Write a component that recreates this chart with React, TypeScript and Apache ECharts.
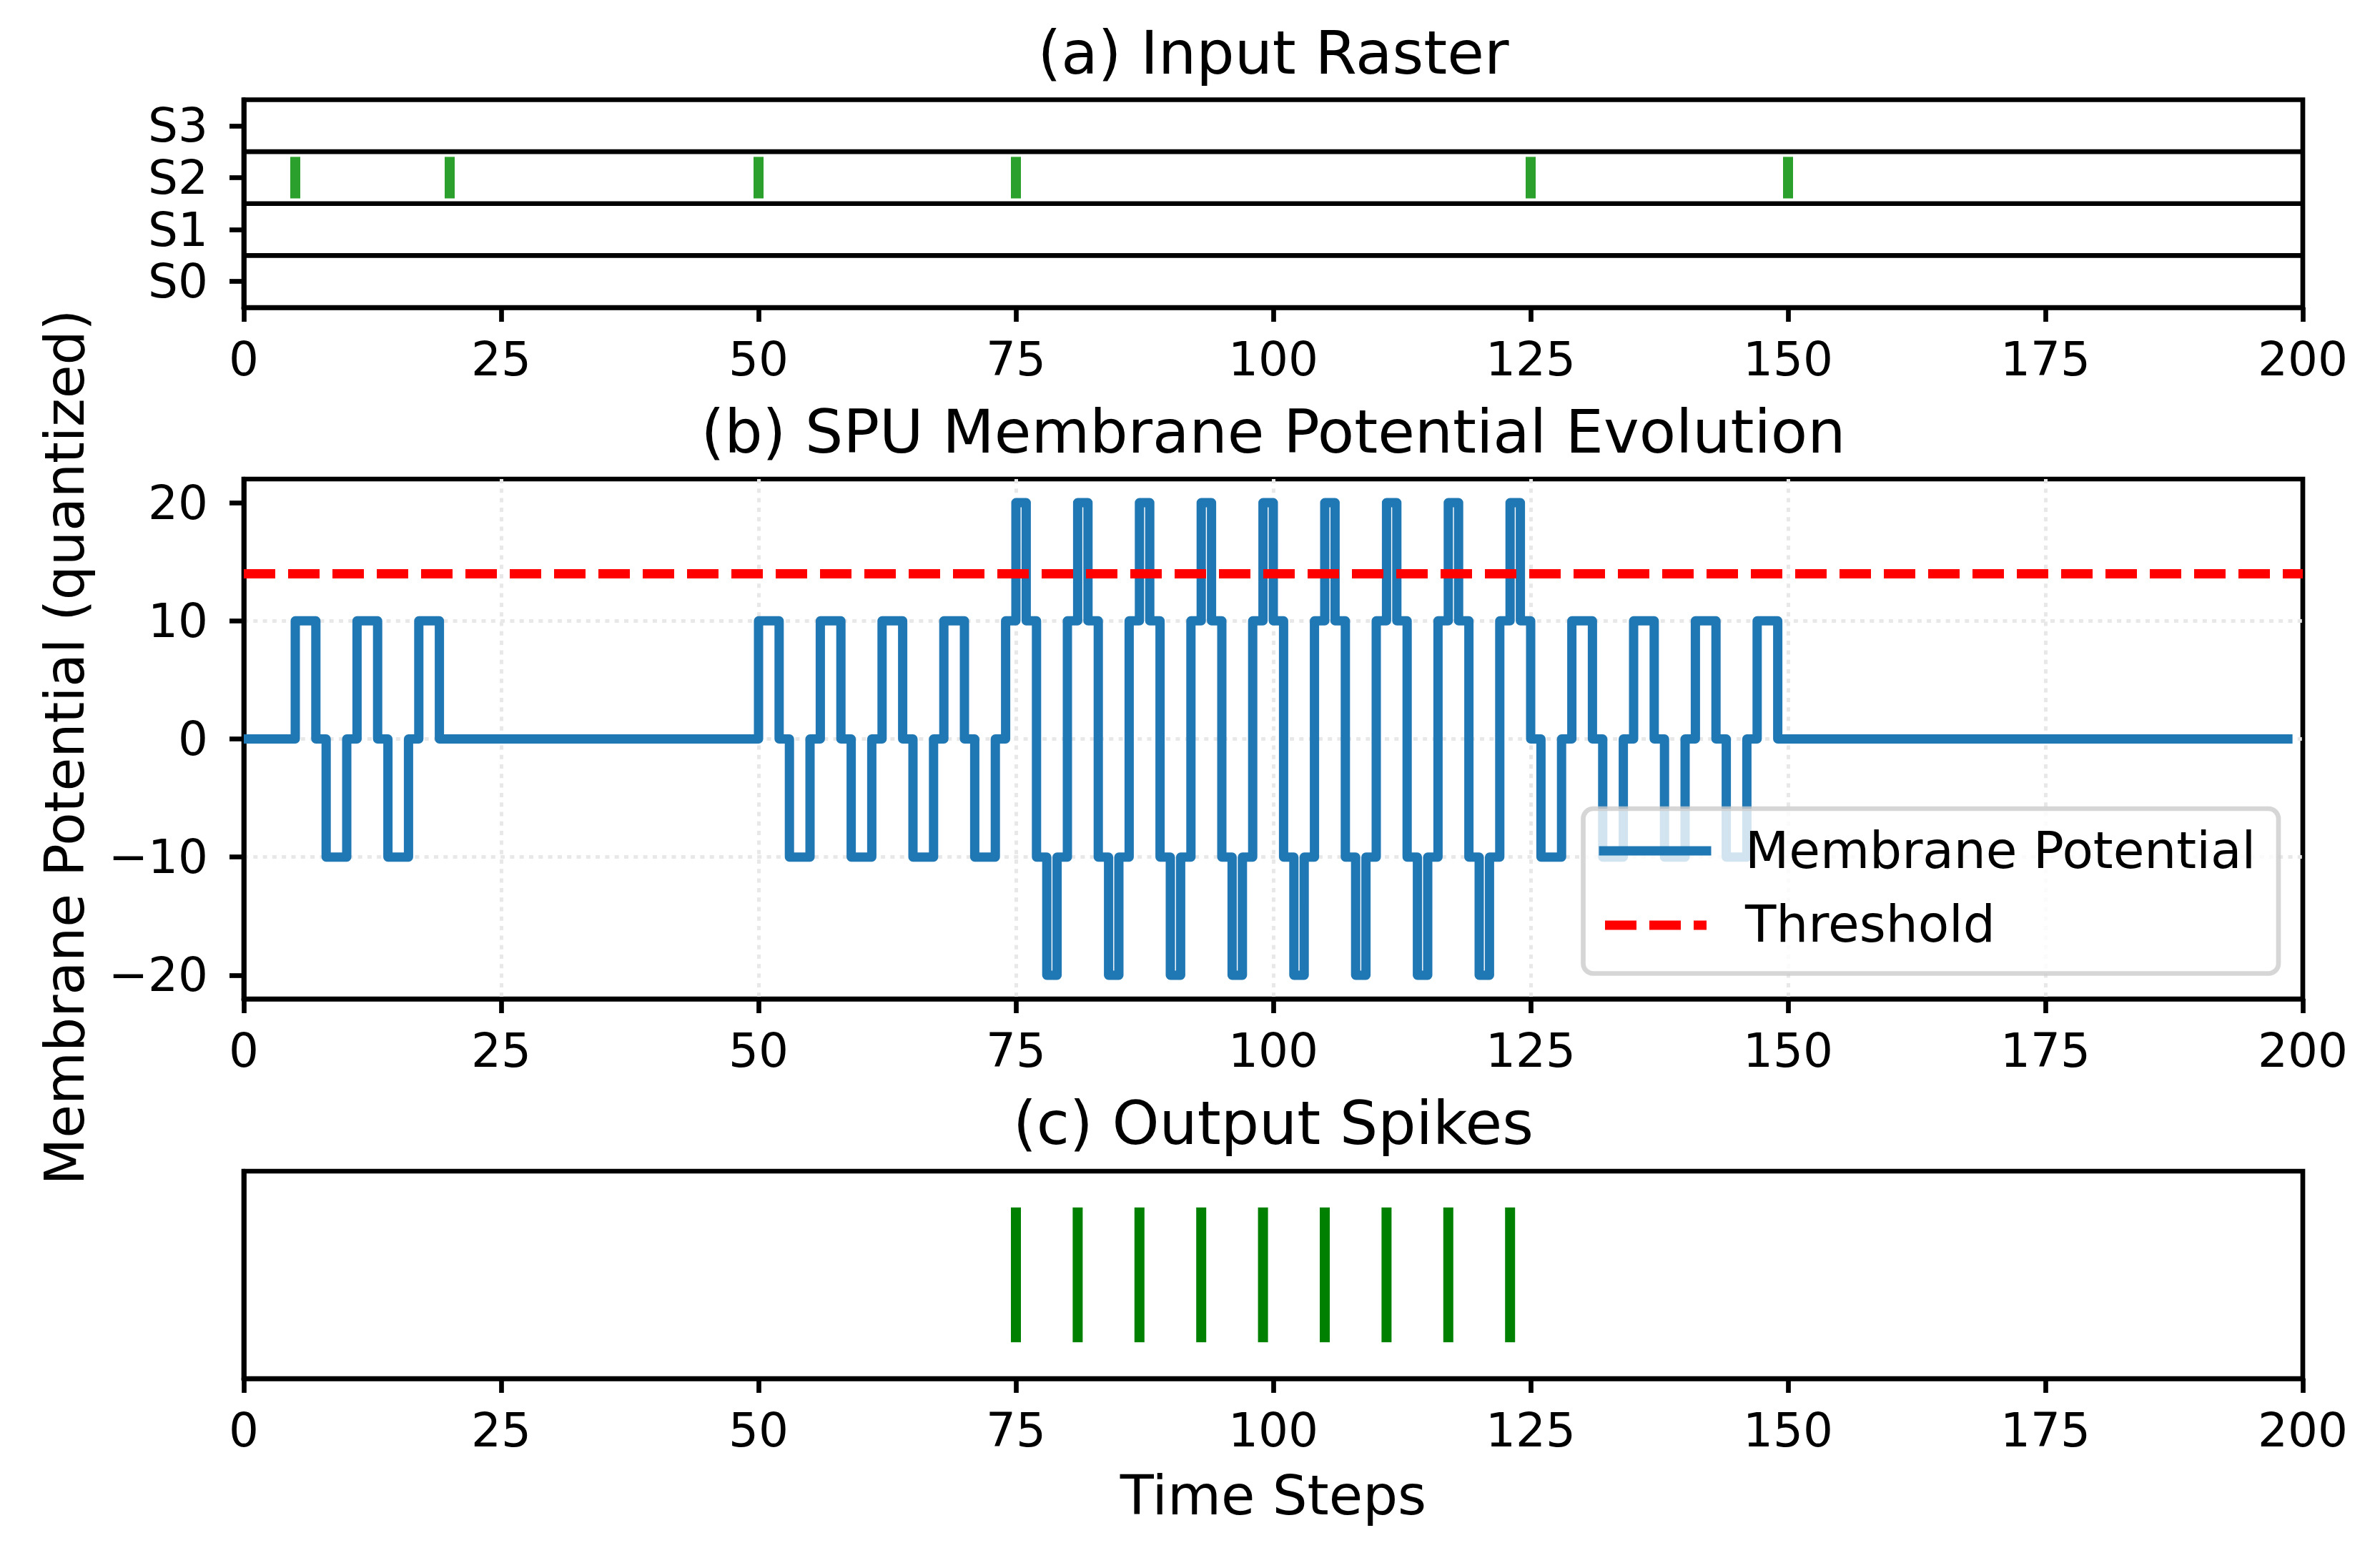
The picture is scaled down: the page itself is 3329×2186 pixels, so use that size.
import React, { useEffect, useRef } from 'react';
import * as echarts from 'echarts';

// ---------------- data ----------------
const timeMin = 0;
const timeMax = 200;
const timeTickStep = 25;

const neuronLabels = ['S0', 'S1', 'S2', 'S3'];
const inputSpikeNeuron = 'S2';
const inputSpikeTimes = [5, 20, 50, 75, 125, 150];
const rowBoundaries = [0.5, 1.5, 2.5];

// membrane potential for t = 0 .. 199
const membranePotential = [
  0, 0, 0, 0, 0,
  10, 10, 0, -10, -10,
  0, 10, 10, 0, -10,
  -10, 0, 10, 10, 0,
  0, 0, 0, 0, 0, 0, 0, 0, 0, 0,
  0, 0, 0, 0, 0, 0, 0, 0, 0, 0,
  0, 0, 0, 0, 0, 0, 0, 0, 0, 0,
  10, 10, 0, -10, -10,
  0, 10, 10, 0, -10,
  -10, 0, 10, 10, 0,
  -10, -10, 0, 10, 10,
  0, -10, -10, 0, 10,
  20, 10, -10, -20, -10,
  10, 20, 10, -10, -20,
  -10, 10, 20, 10, -10,
  -20, -10, 10, 20, 10,
  -10, -20, -10, 10, 20,
  10, -10, -20, -10, 10,
  20, 10, -10, -20, -10,
  10, 20, 10, -10, -20,
  -10, 10, 20, 10, -10,
  -20, -10, 10, 20, 10,
  0, -10, -10, 0, 10,
  10, 0, -10, -10, 0,
  10, 10, 0, -10, -10,
  0, 10, 10, 0, -10,
  -10, 0, 10, 10, 0,
  0, 0, 0, 0, 0, 0, 0, 0, 0, 0,
  0, 0, 0, 0, 0, 0, 0, 0, 0, 0,
  0, 0, 0, 0, 0, 0, 0, 0, 0, 0,
  0, 0, 0, 0, 0, 0, 0, 0, 0, 0,
  0, 0, 0, 0, 0, 0, 0, 0, 0, 0,
];
const threshold = 14;
const potentialMin = -22;
const potentialMax = 22;
const potentialTicks = [-20, -10, 0, 10, 20];

const outputSpikeTimes = [75, 81, 87, 93, 99, 105, 111, 117, 123];

// ---------------- layout / style ----------------
const W = 3329;
const H = 2186;
const FONT = 'DejaVu Sans';
const PLOT_LEFT = 341;
const PLOT_W = 2880;
const PANEL_A = { top: 139.5, height: 290.5 };
const PANEL_B = { top: 670, height: 727 };
const PANEL_C = { top: 1638, height: 290 };
const SPINE = 6.7;
const TICK_FONT = 66;
const TITLE_FONT = 84;
const LABEL_FONT = 77;
const YLABEL_FONT = 76;
const LEGEND_FONT = 71;
const CENTER_X = PLOT_LEFT + PLOT_W / 2;

const fmtMinus = (v: number) => (v < 0 ? '\u2212' + Math.abs(v) : String(v));

function xAxisFor(gridIndex: number, withGrid: boolean) {
  return {
    type: 'value',
    gridIndex,
    min: timeMin,
    max: timeMax,
    interval: timeTickStep,
    axisLine: { show: true, onZero: false, lineStyle: { color: '#000', width: SPINE } },
    axisTick: { show: true, inside: false, length: 20, lineStyle: { color: '#000', width: SPINE } },
    axisLabel: { show: true, margin: 39, fontSize: TICK_FONT, fontFamily: FONT, color: '#000', hideOverlap: false },
    splitLine: {
      show: withGrid,
      showMinLine: false,
      showMaxLine: false,
      lineStyle: { color: '#e8e8e8', width: 5, type: [6, 7.3] },
    },
  };
}

function gridFor(p: { top: number; height: number }) {
  return {
    left: PLOT_LEFT,
    top: p.top,
    width: PLOT_W,
    height: p.height,
    show: true,
    borderColor: '#000',
    borderWidth: SPINE,
    backgroundColor: 'transparent',
    containLabel: false,
  };
}

function textEl(text: string, x: number, y: number, fontSize: number, align: string, rotation = 0) {
  return {
    type: 'text',
    x,
    y,
    rotation,
    z: 100,
    style: {
      text,
      fontSize,
      fontFamily: FONT,
      fill: '#000',
      align,
      verticalAlign: 'middle',
      textAlign: align,
      textVerticalAlign: 'middle',
    },
  };
}

export default function App() {
  const ref = useRef<HTMLDivElement>(null);

  useEffect(() => {
    if (!ref.current) return;
    const chart = echarts.init(ref.current, undefined, { renderer: 'svg' });

    const s2Index = neuronLabels.indexOf(inputSpikeNeuron);

    const option: any = {
      animation: false,
      backgroundColor: '#ffffff',
      grid: [gridFor(PANEL_A), gridFor(PANEL_B), gridFor(PANEL_C)],
      xAxis: [xAxisFor(0, false), xAxisFor(1, true), xAxisFor(2, false)],
      yAxis: [
        {
          type: 'category',
          gridIndex: 0,
          data: neuronLabels,
          boundaryGap: true,
          axisLine: { show: true, onZero: false, lineStyle: { color: '#000', width: SPINE } },
          axisTick: { show: true, interval: 0, alignWithLabel: true, length: 20, lineStyle: { color: '#000', width: SPINE } },
          axisLabel: { show: true, interval: 0, margin: 50, fontSize: TICK_FONT, fontFamily: FONT, color: '#000' },
          splitLine: { show: false },
        },
        {
          type: 'value',
          gridIndex: 0,
          min: -0.5,
          max: 3.5,
          show: false,
        },
        {
          type: 'value',
          gridIndex: 1,
          min: potentialMin,
          max: potentialMax,
          axisLine: { show: true, onZero: false, lineStyle: { color: '#000', width: SPINE } },
          axisTick: { show: true, length: 20, customValues: potentialTicks, lineStyle: { color: '#000', width: SPINE } },
          axisLabel: {
            show: true,
            margin: 50,
            fontSize: TICK_FONT,
            fontFamily: FONT,
            color: '#000',
            customValues: potentialTicks,
            formatter: (v: number) => fmtMinus(v),
          },
          splitLine: {
            show: true,
            showMinLine: false,
            showMaxLine: false,
            lineStyle: { color: '#e8e8e8', width: 5, type: [6, 7.3] },
          },
        },
        {
          type: 'value',
          gridIndex: 2,
          min: 0,
          max: 1,
          axisLine: { show: true, onZero: false, lineStyle: { color: '#000', width: SPINE } },
          axisTick: { show: false },
          axisLabel: { show: false },
          splitLine: { show: false },
        },
      ],
      series: [
        {
          type: 'custom',
          name: 'Row separators',
          xAxisIndex: 0,
          yAxisIndex: 1,
          silent: true,
          data: rowBoundaries.map((b) => [timeMin, b]),
          encode: { x: 0, y: 1 },
          renderItem: (params: any, api: any) => {
            const y = api.value(1);
            const p1 = api.coord([timeMin, y]);
            const p2 = api.coord([timeMax, y]);
            return {
              type: 'line',
              shape: { x1: p1[0], y1: p1[1], x2: p2[0], y2: p2[1] },
              style: { stroke: '#000', lineWidth: SPINE },
            };
          },
        },
        {
          type: 'custom',
          name: 'Input spikes',
          xAxisIndex: 0,
          yAxisIndex: 1,
          silent: true,
          data: inputSpikeTimes.map((t) => [t, s2Index]),
          encode: { x: 0, y: 1 },
          renderItem: (params: any, api: any) => {
            const t = api.value(0);
            const y = api.value(1);
            const p1 = api.coord([t, y - 0.4]);
            const p2 = api.coord([t, y + 0.4]);
            return {
              type: 'line',
              shape: { x1: p1[0], y1: p1[1], x2: p2[0], y2: p2[1] },
              style: { stroke: '#2ca02c', lineWidth: 14, lineCap: 'butt' },
            };
          },
        },
        {
          type: 'line',
          name: 'Membrane Potential',
          xAxisIndex: 1,
          yAxisIndex: 2,
          step: 'end',
          showSymbol: false,
          symbol: 'none',
          silent: true,
          data: membranePotential.map((v, t) => [t, v]),
          lineStyle: { color: '#1f77b4', width: 13, join: 'round', cap: 'butt' },
          z: 2,
          markLine: {
            silent: true,
            symbol: ['none', 'none'],
            label: { show: false },
            lineStyle: { color: '#ff0000', width: 13, type: [44, 18] },
            emphasis: { disabled: true },
            data: [{ yAxis: threshold, name: 'Threshold' }],
            z: 3,
          },
        },
        {
          type: 'custom',
          name: 'Output spikes',
          xAxisIndex: 2,
          yAxisIndex: 3,
          silent: true,
          data: outputSpikeTimes.map((t) => [t, 0.5]),
          encode: { x: 0, y: 1 },
          renderItem: (params: any, api: any) => {
            const t = api.value(0);
            const y = api.value(1);
            const p1 = api.coord([t, y - 0.325]);
            const p2 = api.coord([t, y + 0.325]);
            return {
              type: 'line',
              shape: { x1: p1[0], y1: p1[1], x2: p2[0], y2: p2[1] },
              style: { stroke: '#008000', lineWidth: 14, lineCap: 'butt' },
            };
          },
        },
      ],
      graphic: {
        elements: [
          textEl('(a) Input Raster', CENTER_X, 74, TITLE_FONT, 'center'),
          textEl('(b) SPU Membrane Potential Evolution', CENTER_X, 604, TITLE_FONT, 'center'),
          textEl('(c) Output Spikes', CENTER_X, 1571, TITLE_FONT, 'center'),
          textEl('Time Steps', CENTER_X, 2091, LABEL_FONT, 'center'),
          textEl('Membrane Potential (quantized)', 90, 1045, YLABEL_FONT, 'center', Math.PI / 2),
          {
            type: 'rect',
            z: 90,
            shape: { x: 2214.5, y: 1131, width: 972.5, height: 230.5, r: 14 },
            style: { fill: 'rgba(255,255,255,0.8)', stroke: 'rgba(204,204,204,0.8)', lineWidth: SPINE },
          },
          {
            type: 'line',
            z: 95,
            shape: { x1: 2243, y1: 1190, x2: 2387, y2: 1190 },
            style: { stroke: '#1f77b4', lineWidth: 13, lineCap: 'square' },
          },
          {
            type: 'line',
            z: 95,
            shape: { x1: 2245, y1: 1294, x2: 2387, y2: 1294 },
            style: { stroke: '#ff0000', lineWidth: 13, lineDash: [44, 18] },
          },
          textEl('Membrane Potential', 2441, 1189, LEGEND_FONT, 'left'),
          textEl('Threshold', 2441, 1292, LEGEND_FONT, 'left'),
        ],
      },
    };

    chart.setOption(option);
    return () => {
      chart.dispose();
    };
  }, []);

  return (
    <div
      ref={ref}
      style={{ position: 'absolute', left: 0, top: 0, width: W, height: H, background: '#fff' }}
    />
  );
}
